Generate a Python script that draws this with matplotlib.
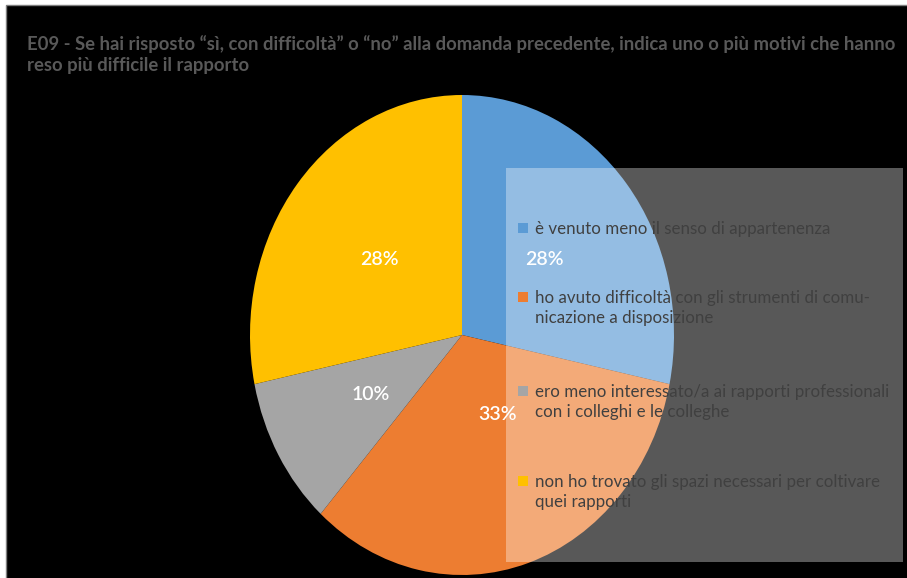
import matplotlib
matplotlib.use('Agg')
import matplotlib.pyplot as plt
import numpy as np
from matplotlib.patches import Rectangle

# Risposte E09
motivi = [
    'è venuto meno il senso di appartenenza',
    'ho avuto difficoltà con gli strumenti di comu-\nnicazione a disposizione',
    'ero meno interessato/a ai rapporti professionali\ncon i colleghi e le colleghe',
    'non ho trovato gli spazi necessari per coltivare\nquei rapporti',
]
percentuali = [28, 33, 10, 28]
colori = ['#5B9BD5', '#ED7D31', '#A5A5A5', '#FFC000']

titolo = ('E09 - Se hai risposto “sì, con difficoltà” o “no” alla domanda precedente, '
          'indica uno o più motivi che hanno\nreso più difficile il rapporto')

W, H = 907, 578
plt.rcParams['font.family'] = ['Lato', 'DejaVu Sans']

fig = plt.figure(figsize=(W / 100, H / 100), dpi=100, facecolor='white')


def fx(x):
    return x / W


def fy(y):
    return 1 - y / H


# sfondo nero con bordo grigio
fig.add_artist(Rectangle((fx(6), fy(H + 2)), 1, fy(5) - fy(H + 2), transform=fig.transFigure,
                         facecolor='black', edgecolor='#7f7f7f', linewidth=1, zorder=-5))

fig.text(fx(27), fy(35), titolo, ha='left', va='top', fontsize=13.3, fontweight='bold',
         color='#595959', linespacing=1.3)

# torta (ellittica come nel grafico originale)
cx, cy, rx, ry = 462, 335, 212, 240
ax = fig.add_axes([fx(cx - rx), fy(cy + ry), 2 * rx / W, 2 * ry / H])
wedges, testi, perc = ax.pie(percentuali, colors=colori, startangle=90, counterclock=False,
                             autopct='%1.0f%%', pctdistance=0.5,
                             wedgeprops=dict(linewidth=0),
                             textprops=dict(color='white', fontsize=14, fontweight='semibold'))
ax.set_aspect('auto')
ax.set_xlim(-1, 1)
ax.set_ylim(-1, 1)
ax.axis('off')

# etichetta della fetta arancione un po' più verso il centro
w = wedges[1]
ang = np.deg2rad(w.theta1 + (w.theta2 - w.theta1) * 0.57)
perc[1].set_position((0.37 * np.cos(ang), 0.37 * np.sin(ang)))

# legenda semitrasparente
fig.add_artist(Rectangle((fx(506), fy(562)), fx(903) - fx(506), fy(168) - fy(562),
                         transform=fig.transFigure, facecolor='white', alpha=0.35,
                         edgecolor='none', zorder=3))
righe = [228, 297, 391, 481]
for testo, col, y in zip(motivi, colori, righe):
    fig.add_artist(Rectangle((fx(518), fy(y + 5)), 10 / W, 10 / H, transform=fig.transFigure,
                             facecolor=col, edgecolor='none', zorder=4))
    fig.text(fx(535), fy(y - 7), testo, ha='left', va='top', fontsize=12.2,
             color='#404040', linespacing=1.32, zorder=4)

fig.savefig('out.png', dpi=100, facecolor=fig.get_facecolor())
